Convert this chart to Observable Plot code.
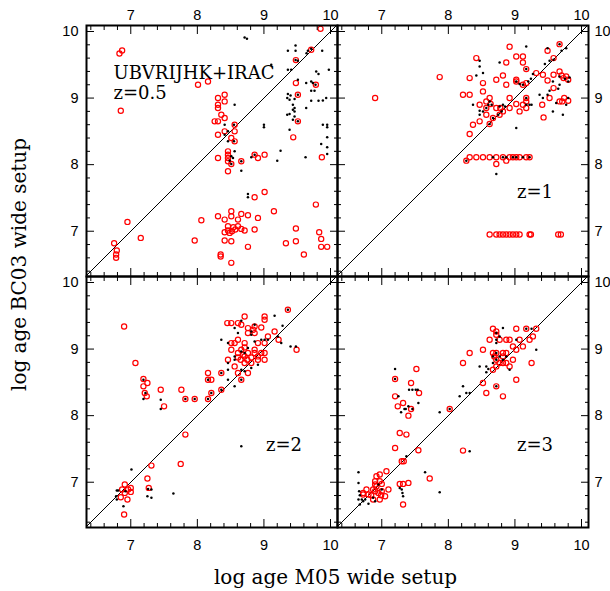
<!DOCTYPE html>
<html>
<head>
<meta charset="utf-8">
<script src="https://cdn.jsdelivr.net/npm/d3@7"></script>
<script src="https://cdn.jsdelivr.net/npm/@observablehq/plot@0.6"></script>
<style>
  body { margin: 0; background: #fff; }
  #chart { width: 610px; height: 591px; }
  g[aria-label="axis title"] text { letter-spacing: 0.4px; }
</style>
</head>
<body>
<div id="chart"></div>
<script>
// ---- data (log age M05, log age BC03) ----
const panelNames = ["z=0.5", "z=1", "z=2", "z=3"];

const z05Red = [
  [9.85,10.04],[6.83,9.67],[6.87,9.715],[6.85,8.81],[8.01,9.20],[8.16,9.25],[8.41,9.05],[8.31,9.00],
  [8.41,8.95],[8.31,8.90],[8.31,8.85],[8.36,8.75],[8.26,8.65],[8.31,8.65],[8.41,8.70],[8.56,8.60],
  [8.41,8.50],[8.56,8.50],[8.31,8.45],[8.51,8.40],[8.56,8.35],[8.46,8.20],[8.46,8.15],[8.46,8.10],
  [8.46,8.05],[8.31,8.10],[8.51,8.01],[8.46,7.90],[8.66,8.05],[8.86,8.15],[8.91,8.10],[9.01,8.15],
  [9.48,9.57],[9.71,9.725],[9.48,9.225],[9.51,9.05],[9.78,9.20],[9.51,8.65],[9.44,8.41],[9.87,8.11],
  [8.86,7.51],[9.01,7.59],[9.15,7.30],[9.78,7.40],[6.95,7.14],[6.75,6.82],[6.79,6.71],[6.78,6.65],
  [6.78,6.60],[7.15,6.90],[7.96,6.86],[8.06,7.165],[8.31,7.225],[8.41,7.175],[8.51,7.30],[8.51,7.225],
  [8.61,7.175],[8.66,7.26],[8.76,7.24],[8.91,7.20],[8.46,7.075],[8.54,7.06],[8.61,7.075],[8.46,7.01],
  [8.52,7.00],[8.57,7.025],[8.485,6.975],[8.41,6.985],[8.66,7.035],[8.71,7.01],[8.86,7.025],[8.41,6.86],
  [8.51,6.85],[8.76,6.765],[8.35,6.65],[8.35,6.62],[8.51,6.525],[9.33,6.82],[9.48,7.04],[9.48,6.85],
  [9.60,6.65],[9.83,6.985],[9.86,6.885],[9.86,6.765],[9.95,6.765]
];
const z05Black = [
  [8.71,9.91],[8.745,9.89],[9.36,9.71],[9.475,9.79],[9.475,9.71],[9.475,9.57],[9.51,9.56],[9.66,9.71],
  [9.71,9.74],[9.64,9.675],[9.875,9.71],[9.11,9.50],[9.36,9.425],[9.41,9.425],[9.785,9.40],[9.82,9.36],
  [9.975,9.425],[9.51,9.275],[9.635,9.225],[9.71,9.25],[9.735,9.225],[9.775,9.20],[9.71,9.11],[9.76,9.11],
  [9.36,9.06],[9.40,9.04],[9.35,9.00],[9.385,8.975],[9.46,8.985],[9.51,9.05],[9.935,9.00],[9.71,8.96],
  [9.82,8.96],[9.885,8.965],[9.435,8.90],[9.46,8.85],[9.435,8.825],[9.46,8.80],[9.385,8.76],[9.46,8.725],
  [9.435,8.675],[9.51,8.65],[9.635,8.85],[9.35,8.75],[9.385,8.525],[9.885,8.60],[9.95,8.60],[9.95,8.56],
  [9.95,8.41],[9.86,8.31],[9.95,8.26],[9.95,8.16],[9.0,8.60],[9.0,8.56],[9.25,8.21],[9.20,8.06],
  [9.625,8.11],[8.56,8.90],[8.55,8.60],[8.41,8.60],[8.46,8.50],[8.41,8.45],[8.46,8.35],[8.55,8.35],
  [8.56,8.20],[8.51,8.125],[8.535,8.10],[8.485,8.06],[8.51,8.01],[8.66,8.05],[8.66,7.91],[8.81,8.11],
  [8.86,8.15],[8.76,7.56],[8.76,7.51]
];

const z1Red = [
  [6.90,9.00],[7.87,9.315],[8.22,9.05],[8.32,9.05],[8.32,9.30],[8.42,9.60],[8.52,9.225],[8.52,9.10],
  [8.37,8.60],[8.32,8.46],[8.47,8.65],[8.47,8.90],[8.57,8.95],[8.62,9.00],[8.635,8.91],[8.57,8.85],
  [8.57,8.75],[8.67,8.70],[8.62,8.61],[8.72,9.275],[8.82,9.34],[8.87,9.20],[8.87,9.535],[8.92,9.77],
  [8.72,8.85],[8.78,8.85],[8.82,8.80],[8.77,8.75],[8.92,9.00],[8.92,8.85],[9.02,9.625],[9.02,9.275],
  [9.02,9.25],[9.02,8.91],[9.12,9.625],[9.12,9.535],[9.12,9.20],[9.17,9.225],[9.07,8.80],[9.12,8.90],
  [9.17,9.00],[9.17,8.95],[9.17,8.85],[9.17,9.435],[9.32,9.375],[9.42,9.35],[9.49,9.265],[9.52,9.00],
  [9.41,8.90],[9.43,8.71],[9.49,9.71],[9.58,9.60],[9.67,9.81],[9.58,9.35],[9.67,9.40],[9.70,9.34],
  [9.73,9.30],[9.58,9.15],[9.77,9.325],[9.80,9.275],[9.67,8.95],[9.71,8.95],[9.74,9.00],[9.80,8.96],
  [8.32,8.11],[8.42,8.11],[8.52,8.11],[8.62,8.11],[8.72,8.11],[8.82,8.11],[8.92,8.11],[8.97,8.11],
  [9.02,8.11],[9.07,8.11],[9.17,8.11],[9.22,8.11],[8.27,8.06],[8.72,8.01],[8.87,8.06],
  [8.62,6.95],[8.72,6.95],[8.77,6.95],[8.82,6.95],[8.87,6.95],[8.92,6.95],[8.97,6.95],[9.02,6.95],
  [9.07,6.95],[9.22,6.95],[9.24,6.95],[9.65,6.95],[9.69,6.95]
];
const z1Black = [
  [8.47,9.56],[8.47,9.475],[8.52,9.375],[8.42,9.34],[8.77,9.535],[9.17,9.775],[9.49,9.75],[9.58,9.575],
  [9.70,9.71],[9.77,9.75],[9.67,9.81],[9.27,9.36],[9.24,9.29],[9.20,9.25],[9.12,9.20],[9.07,9.21],
  [9.17,9.435],[9.45,9.51],[9.52,9.56],[9.67,9.325],[9.75,9.29],[9.82,9.31],[9.80,9.25],[9.57,9.25],
  [9.67,9.20],[9.65,9.14],[9.52,9.11],[9.49,9.05],[9.42,9.00],[9.37,9.05],[9.62,8.925],[9.57,8.80],
  [9.72,8.75],[9.80,9.00],[9.77,8.90],[8.37,8.90],[8.47,8.81],[8.52,8.80],[8.47,8.75],[8.57,8.85],
  [8.60,8.90],[8.62,8.95],[8.65,8.90],[8.77,8.875],[8.82,8.90],[8.85,8.875],[8.80,8.80],[8.75,8.75],
  [8.67,8.70],[8.62,8.61],[9.17,8.90],[9.22,8.90],[9.25,8.90],[9.02,8.55],[9.02,9.25],[9.17,9.00],
  [8.67,8.11],[8.82,8.11],[8.87,8.11],[8.97,8.11],[9.02,8.11],[9.12,8.11],[9.22,8.11],[8.27,8.06],
  [8.72,7.86]
];

const z2Red = [
  [6.90,9.34],[7.07,8.79],[7.19,8.55],[7.19,8.44],[7.21,8.34],[7.24,8.29],[7.25,8.49],[7.45,8.39],
  [7.50,8.14],[7.76,8.39],[7.82,8.25],[7.96,8.25],[8.16,8.64],[8.16,8.54],[8.21,8.54],[8.16,8.25],
  [8.21,8.34],[8.36,8.64],[8.36,8.39],[8.45,9.39],[8.51,9.39],[8.46,8.84],[8.51,9.09],[8.56,9.09],
  [8.51,8.99],[8.56,8.74],[8.61,9.39],[8.61,9.14],[8.61,8.94],[8.61,8.875],[8.65,8.84],[8.61,8.64],
  [8.66,8.54],[8.66,8.99],[8.69,8.915],[8.66,9.365],[8.71,9.49],[8.71,9.09],[8.71,9.025],[8.71,8.89],
  [8.75,8.84],[8.71,8.79],[8.76,9.315],[8.76,9.24],[8.76,8.64],[8.81,8.875],[8.81,8.79],[8.76,8.94],
  [8.86,9.34],[8.86,9.24],[8.84,9.29],[8.86,8.99],[8.86,8.94],[8.91,9.09],[8.91,8.89],[8.91,8.84],
  [8.96,8.94],[8.96,9.325],[9.01,9.49],[9.01,9.44],[9.01,9.09],[9.01,8.94],[9.01,8.84],[9.06,9.19],
  [9.16,9.265],[9.36,9.59],[9.22,9.14],[9.49,8.99],[6.91,6.965],[6.87,6.89],[6.96,6.89],[7.00,6.915],
  [6.91,6.84],[7.00,6.855],[6.85,6.775],[6.95,6.74],[6.90,6.515],[7.31,7.25],[7.25,7.055],[7.27,6.915],
  [7.75,7.275],[7.82,7.715]
];
const z2Black = [
  [7.01,7.19],[6.79,6.875],[6.81,6.875],[6.78,6.79],[6.79,6.74],[6.89,6.64],[6.92,6.865],[7.26,6.90],
  [7.31,6.89],[7.25,6.79],[7.31,6.765],[7.64,6.83],[7.45,8.24],[7.45,8.10],[7.19,8.25],[7.19,8.54],
  [7.22,8.34],[8.66,7.54],[7.82,8.25],[7.96,8.25],[8.16,8.25],[8.21,8.34],[8.16,8.54],[8.36,8.64],
  [8.36,8.39],[8.46,8.54],[8.46,8.69],[8.46,8.79],[8.56,8.44],[8.36,9.14],[8.46,9.09],[8.56,9.315],
  [8.61,9.24],[8.66,9.425],[8.56,8.89],[8.56,8.84],[8.66,8.69],[8.71,8.665],[8.66,8.965],[8.71,8.94],
  [8.76,9.015],[8.81,9.215],[8.81,9.265],[8.86,9.365],[8.86,9.115],[8.96,9.14],[9.01,9.14],[9.06,9.14],
  [9.16,9.50],[9.28,9.35],[9.21,9.19],[9.26,9.09],[9.40,9.04],[9.48,9.04],[8.91,8.765],[8.81,8.715],
  [9.36,9.59],[8.66,8.54]
];

const z3Red = [
  [6.72,6.84],[6.72,6.815],[6.77,6.89],[6.80,6.815],[6.84,6.805],[6.87,6.89],[6.90,6.865],[6.90,6.965],
  [6.92,7.09],[6.97,7.115],[6.97,7.015],[7.00,6.975],[6.90,7.015],[6.92,6.94],[6.95,6.84],[7.00,6.865],
  [6.99,6.805],[6.87,6.74],[6.97,6.74],[7.05,6.79],[7.07,7.165],[7.10,6.89],[7.20,8.55],[7.20,8.29],
  [7.24,8.14],[7.27,7.74],[7.20,7.515],[7.32,8.19],[7.30,7.315],[7.33,7.315],[7.27,6.975],[7.32,6.975],
  [7.32,6.665],[7.40,6.99],[7.40,8.00],[7.44,8.49],[7.44,8.10],[7.37,7.715],[7.52,8.70],[7.56,8.34],
  [7.55,7.48],[7.72,7.055],[8.02,8.10],[8.22,8.79],[8.32,8.94],[8.22,7.475],[8.52,8.99],[8.52,8.49],
  [8.57,8.34],[8.62,9.14],[8.67,9.305],[8.72,9.265],[8.72,9.215],[8.67,8.94],[8.69,8.89],[8.72,8.94],
  [8.72,8.84],[8.67,8.69],[8.72,8.74],[8.77,8.79],[8.82,8.79],[8.87,8.79],[8.92,8.74],[8.82,8.94],
  [8.87,8.94],[8.82,8.89],[8.72,8.44],[8.77,9.14],[8.87,9.14],[8.92,9.14],[8.97,9.04],[9.02,8.99],
  [8.97,8.84],[9.02,9.305],[9.07,9.14],[9.12,9.04],[9.22,9.14],[9.27,9.19],[9.32,9.305],[9.17,9.305],
  [8.82,8.29],[9.02,8.54],[9.25,8.79]
];
const z3Black = [
  [6.65,6.99],[6.66,6.865],[6.67,6.805],[6.65,6.74],[6.70,6.74],[6.72,6.715],[6.75,6.74],[6.67,6.665],
  [6.80,6.675],[6.65,7.15],[6.90,6.715],[7.00,6.89],[6.87,6.765],[6.95,6.965],[7.20,8.70],[7.25,8.29],
  [7.29,8.05],[7.34,8.10],[7.36,8.10],[7.40,8.14],[7.46,8.10],[7.41,8.39],[7.46,8.39],[7.51,8.39],
  [7.54,8.39],[7.55,8.19],[7.37,7.39],[7.27,6.915],[7.30,6.89],[7.31,6.84],[7.32,6.79],[7.65,7.15],
  [7.87,6.85],[7.87,8.05],[8.02,8.10],[8.17,8.29],[8.22,8.44],[8.27,8.34],[8.32,8.34],[8.32,7.465],
  [8.47,8.74],[8.57,8.74],[8.57,8.65],[8.60,8.70],[8.72,9.24],[8.72,9.14],[8.72,9.09],[8.82,9.315],
  [8.77,9.19],[8.67,8.89],[8.72,8.84],[8.67,8.79],[8.72,8.94],[8.77,8.89],[8.82,8.84],[8.87,8.89],
  [8.92,8.69],[9.02,9.14],[9.17,9.305],[9.25,9.305],[9.32,8.99],[8.72,8.44],[7.20,8.55]
];

const majorTicks = [7, 8, 9, 10];
const minorTicks = [6.4, 6.6, 6.8, 7.2, 7.4, 7.6, 7.8, 8.2, 8.4, 8.6, 8.8, 9.2, 9.4, 9.6, 9.8];
const diagonal = [6.2, 10.3];
const xTitle = "log age M05 wide setup";
const yTitle = "log age BC03 wide setup";
const annotations = [
  {panel: 0, x: 6.74, y: 9.285, text: "UBVRIJHK+IRAC"},
  {panel: 0, x: 6.74, y: 8.985, text: panelNames[0]},
  {panel: 1, x: 9.03, y: 7.50, text: panelNames[1]},
  {panel: 2, x: 9.03, y: 7.475, text: panelNames[2]},
  {panel: 3, x: 9.03, y: 7.475, text: panelNames[3]}
];

// ---- build tables ----
const redSets = [z05Red, z1Red, z2Red, z3Red];
const blackSets = [z05Black, z1Black, z2Black, z3Black];
const toRows = sets => sets.flatMap((pts, panel) => pts.map(([x, y]) => ({panel, x, y})));
const redRows = toRows(redSets);
const blackRows = toRows(blackSets);
const col = d => d.panel % 2;
const row = d => Math.floor(d.panel / 2);

const sans = "Liberation Sans, Arial, Helvetica, sans-serif";
const serif = "DejaVu Serif, serif";
const intFmt = d3.format("d");

function tickSet(ticks, len) {
  return [
    Plot.axisX({anchor: "bottom", ticks, tickSize: len, insetBottom: len, fill: "none", facetAnchor: null, strokeWidth: 1}),
    Plot.axisX({anchor: "top", ticks, tickSize: len, insetTop: len, fill: "none", facetAnchor: null, strokeWidth: 1}),
    Plot.axisY({anchor: "left", ticks, tickSize: len, insetLeft: len, fill: "none", facetAnchor: null, strokeWidth: 1}),
    Plot.axisY({anchor: "right", ticks, tickSize: len, insetRight: len, fill: "none", facetAnchor: null, strokeWidth: 1})
  ];
}

const chart = Plot.plot({
  width: 610,
  height: 591,
  marginLeft: 85,
  marginRight: 22,
  marginTop: 24,
  marginBottom: 64,
  style: {background: "white", color: "black"},
  fx: {domain: [0, 1], padding: 0, axis: null},
  fy: {domain: [0, 1], padding: 0, axis: null},
  x: {domain: [6.335, 10.105]},
  y: {domain: [6.32, 10.09]},
  marks: [
    Plot.line(diagonal, {x: d => d, y: d => d, stroke: "black", strokeWidth: 1, clip: true}),
    Plot.dot(redRows, {x: "x", y: "y", fx: col, fy: row, r: 2.6, stroke: "#ff0000", strokeWidth: 1.2, fill: "none"}),
    Plot.dot(blackRows, {x: "x", y: "y", fx: col, fy: row, r: 1.25, fill: "black", stroke: "none"}),
    ...tickSet(minorTicks, 4),
    ...tickSet(majorTicks, 8),
    Plot.axisX({anchor: "top", ticks: majorTicks, tickFormat: intFmt, tickSize: 0, tickPadding: 6, facetAnchor: "top", label: null, fontSize: 14.5, fontFamily: sans}),
    Plot.axisX({anchor: "bottom", ticks: majorTicks, tickFormat: intFmt, tickSize: 0, tickPadding: 12, facetAnchor: "bottom", label: null, fontSize: 14.5, fontFamily: sans}),
    Plot.axisY({anchor: "left", ticks: majorTicks, tickFormat: intFmt, tickSize: 0, tickPadding: 8, facetAnchor: "left", label: null, fontSize: 14.5, fontFamily: sans}),
    Plot.axisY({anchor: "right", ticks: majorTicks, tickFormat: intFmt, tickSize: 0, tickPadding: 6, facetAnchor: "right", label: null, fontSize: 14.5, fontFamily: sans}),
    Plot.frame({stroke: "black", strokeWidth: 2}),
    Plot.text(annotations, {x: "x", y: "y", text: "text", fx: col, fy: row, textAnchor: "start", lineAnchor: "bottom", fontFamily: serif, fontSize: 18, fill: "black"}),
    Plot.text([xTitle], {text: d => d, facet: "super", frameAnchor: "bottom", textAnchor: "middle", lineAnchor: "top", dy: 42.5, dx: -2, fontFamily: serif, fontSize: 20, fill: "black", ariaLabel: "axis title"}),
    Plot.text([yTitle], {text: d => d, facet: "super", frameAnchor: "left", textAnchor: "middle", lineAnchor: "top", rotate: -90, dx: -74.5, dy: -12, fontFamily: serif, fontSize: 20, fill: "black", ariaLabel: "axis title"})
  ]
});

document.getElementById("chart").appendChild(chart);
</script>
</body>
</html>
